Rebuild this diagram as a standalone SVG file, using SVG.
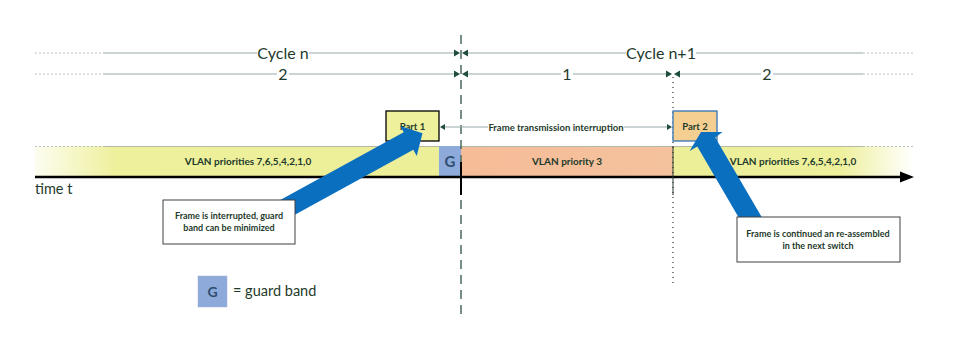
<svg xmlns="http://www.w3.org/2000/svg" width="957" height="348" viewBox="0 0 957 348">
<defs>
<style>
.t{font-family:Lato,"Open Sans","Liberation Sans",sans-serif;fill:#1e3a2a}
.b{font-weight:bold}
.dim{stroke:#97a9a9;stroke-width:1;fill:none}
.dimd{stroke:#b8c4c4;stroke-width:1;stroke-dasharray:2,2;fill:none}
.ah{fill:#1f4e3d}
.blue{fill:#0b6fc0}
.call{fill:#fff;stroke:#404040;stroke-width:1}
</style>
<linearGradient id="gl" x1="35" y1="0" x2="439" y2="0" gradientUnits="userSpaceOnUse">
<stop offset="0" stop-color="#fdfdf0"/>
<stop offset="0.2" stop-color="#eef09c"/>
<stop offset="1" stop-color="#ecef98"/>
</linearGradient>
<linearGradient id="gr" x1="673" y1="0" x2="913" y2="0" gradientUnits="userSpaceOnUse">
<stop offset="0" stop-color="#ecef98"/>
<stop offset="0.7" stop-color="#eef09c"/>
<stop offset="1" stop-color="#ffffff"/>
</linearGradient>
<linearGradient id="go" x1="461" y1="0" x2="673" y2="0" gradientUnits="userSpaceOnUse">
<stop offset="0" stop-color="#f6bc98"/>
<stop offset="1" stop-color="#f4c29d"/>
</linearGradient>
</defs>

<g id="band">
<rect x="35" y="146" width="404" height="31" fill="url(#gl)"/>
<rect x="461" y="146" width="212" height="31" fill="url(#go)"/>
<rect x="673" y="146" width="240" height="31" fill="url(#gr)"/>
<line x1="103" y1="146.5" x2="863" y2="146.5" stroke="#b3b9a6" stroke-width="1"/>
<line x1="35" y1="146.5" x2="103" y2="146.5" class="dimd"/>
<line x1="863" y1="146.5" x2="913" y2="146.5" class="dimd"/>
<text class="t b" x="248" y="164.5" font-size="10" text-anchor="middle">VLAN priorities 7,6,5,4,2,1,0</text>
<text class="t b" x="567" y="164.5" font-size="10" text-anchor="middle">VLAN priority 3</text>
<text class="t b" x="793" y="164.5" font-size="10" text-anchor="middle">VLAN priorities 7,6,5,4,2,1,0</text>
</g>

<g id="guard">
<rect x="439" y="146" width="22" height="31" fill="#8eaadb"/>
<text x="450" y="167" font-family="Lato,'Open Sans','Liberation Sans',sans-serif" font-weight="bold" font-size="15" fill="#2f4f6f" text-anchor="middle">G</text>
</g>

<g id="dimensions">
<line x1="35" y1="53" x2="103" y2="53" class="dimd"/>
<line x1="103" y1="53" x2="455" y2="53" class="dim"/>
<line x1="467" y1="53" x2="863" y2="53" class="dim"/>
<line x1="863" y1="53" x2="913" y2="53" class="dimd"/>
<line x1="35" y1="74" x2="103" y2="74" class="dimd"/>
<line x1="103" y1="74" x2="455" y2="74" class="dim"/>
<line x1="467" y1="74" x2="667" y2="74" class="dim"/>
<line x1="679" y1="74" x2="863" y2="74" class="dim"/>
<line x1="863" y1="74" x2="913" y2="74" class="dimd"/>
<polygon class="ah" points="454,49.5 460,53 454,56.5"/>
<polygon class="ah" points="468,49.5 462,53 468,56.5"/>
<polygon class="ah" points="454,70.5 460,74 454,77.5"/>
<polygon class="ah" points="468,70.5 462,74 468,77.5"/>
<polygon class="ah" points="666,70.5 672,74 666,77.5"/>
<polygon class="ah" points="680,70.5 674,74 680,77.5"/>
<rect x="257" y="44" width="52" height="18" fill="#fff"/>
<text class="t" x="283" y="59" font-size="16" text-anchor="middle">Cycle n</text>
<rect x="626" y="44" width="70" height="18" fill="#fff"/>
<text class="t" x="661" y="59" font-size="16" text-anchor="middle">Cycle n+1</text>
<rect x="277" y="65" width="12" height="18" fill="#fff"/>
<text class="t" x="283" y="80" font-size="16" text-anchor="middle">2</text>
<rect x="561" y="65" width="12" height="18" fill="#fff"/>
<text class="t" x="567" y="80" font-size="16" text-anchor="middle">1</text>
<rect x="761" y="65" width="12" height="18" fill="#fff"/>
<text class="t" x="767" y="80" font-size="16" text-anchor="middle">2</text>
</g>

<g id="axis">
<line x1="35" y1="177" x2="903" y2="177" stroke="#000" stroke-width="2.5"/>
<polygon points="900,171.5 914,177 900,182.5" fill="#000"/>
<text class="t" x="35" y="194" font-size="14.5">time t</text>
</g>

<g id="boundaries">
<line x1="461" y1="35" x2="461" y2="316" stroke="#4a6a5c" stroke-width="1.5" stroke-dasharray="9,6"/>
<line x1="461" y1="162" x2="461" y2="195" stroke="#000" stroke-width="2"/>
<line x1="673" y1="77" x2="673" y2="284" stroke="#000" stroke-width="1" stroke-dasharray="1,4"/>
<line x1="673" y1="146" x2="673" y2="195" stroke="#2a3a30" stroke-width="1"/>
</g>

<g id="interruption">
<line x1="443" y1="127" x2="669" y2="127" class="dim"/>
<polygon class="ah" points="440,127 445,124 445,130"/>
<polygon class="ah" points="672,127 667,124 667,130"/>
<rect x="488" y="121" width="136" height="12" fill="#fff"/>
<text class="t b" x="556" y="130.5" font-size="9.5" text-anchor="middle">Frame transmission interruption</text>
</g>

<g id="part1">
<rect x="386" y="111" width="53" height="30" fill="#eef09c" stroke="#000" stroke-width="1.3"/>
<text class="t b" x="412.5" y="130" font-size="9.5" text-anchor="middle">Part 1</text>
</g>

<g id="part2">
<rect x="673" y="111" width="44" height="30" fill="#f5cf92" stroke="#2e75b6" stroke-width="1.3"/>
<text class="t b" x="695" y="130" font-size="9.5" text-anchor="middle">Part 2</text>
</g>

<g id="connectors">
<polygon class="blue" points="274.8,225.8 413.3,149.8 416.7,155.9 422.5,133.3 400.3,126.1 403.7,132.2 265.2,208.2"/>
<polygon class="blue" points="769.2,230 715.2,137.5 722.5,132 701,132 689.6,151 697.3,146.5 751.8,240"/>
</g>

<g id="callout1">
<rect class="call" x="163" y="200" width="132" height="44"/>
<text class="t b" x="229" y="219" font-size="9" text-anchor="middle">Frame is interrupted, guard</text>
<text class="t b" x="229" y="231" font-size="9" text-anchor="middle">band can be minimized</text>
</g>

<g id="callout2">
<rect class="call" x="737" y="217" width="163" height="45"/>
<text class="t b" x="818" y="237" font-size="9" text-anchor="middle">Frame is continued an re-assembled</text>
<text class="t b" x="818" y="249" font-size="9" text-anchor="middle">in the next switch</text>
</g>

<g id="legend">
<rect x="198" y="276" width="29" height="31" fill="#8eaadb" stroke="#a0b4d8" stroke-width="0.5"/>
<text x="212.5" y="297" font-family="Lato,'Open Sans','Liberation Sans',sans-serif" font-weight="bold" font-size="14" fill="#2f4f6f" text-anchor="middle">G</text>
<text class="t" x="233" y="296" font-size="14.5">= guard band</text>
</g>
</svg>
